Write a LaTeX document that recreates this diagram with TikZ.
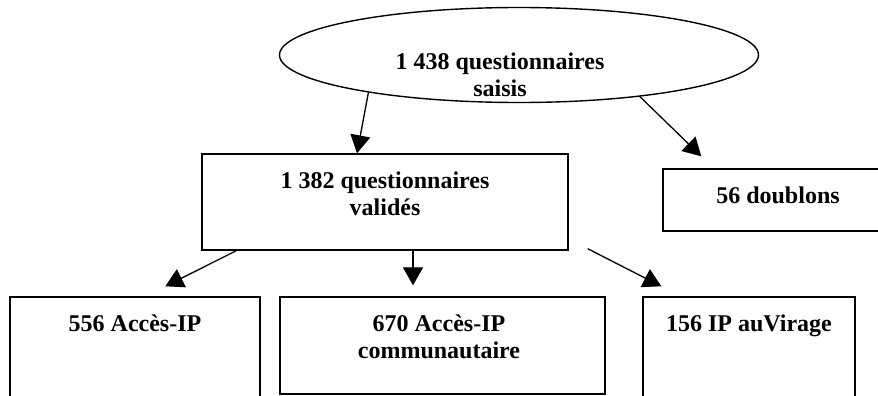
\documentclass[tikz,border=0pt]{standalone}
\usepackage{fontspec}
\setmainfont{Liberation Serif}
\usetikzlibrary{arrows.meta,shapes.geometric}
\begin{document}
\begin{tikzpicture}[x=1pt,y=-1pt,
  box/.style={draw, line width=1.4pt, inner sep=0pt},
  lbl/.style={font=\fontsize{24}{27}\selectfont\bfseries, inner sep=0pt, align=center},
  arr/.style={line width=1.3pt, -{Triangle[length=18pt,width=20pt]}}]
\useasboundingbox (0,0) rectangle (878,396);
\clip (0,0) rectangle (878,396);
% shapes
\node[box, ellipse, minimum width=479pt, minimum height=95pt] (saisis) at (519,55) {};
\node[box, minimum width=366pt, minimum height=96pt] (valid) at (385,202) {};
\node[box, minimum width=250pt, minimum height=62pt] (doublons) at (788,200) {};
\node[box, minimum width=250pt, minimum height=130pt] (acces) at (135,362) {};
\node[box, minimum width=325pt, minimum height=97pt] (commu) at (442.5,345.5) {};
\node[box, minimum width=212pt, minimum height=130pt] (virage) at (749,362) {};
% texts
\node[lbl] (tsaisis) at (500,74.4) {1 438 questionnaires\\saisis};
\node[lbl] (tvalid) at (385,194) {1 382 questionnaires\\validés};
\node[lbl, anchor=base] (tdoublons) at (778,203) {56 doublons};
\node[lbl, anchor=base] (tacces) at (135,331) {556 Accès-IP};
\node[lbl] (tcommu) at (439,337) {670 Accès-IP\\communautaire};
\node[lbl, anchor=base] (tvirage) at (749,331) {156 IP auVirage};
% connectors
\draw[arr] (saisis.194.8) -- ([xshift=-28pt]valid.north);
\draw[arr] (saisis.341.9) -- ([xshift=39pt,yshift=12pt]doublons.north west);
\draw[arr] ([xshift=35pt]valid.south west) -- ([xshift=156pt,yshift=10pt]acces.north west);
\draw[arr] ([xshift=28pt]valid.south) -- ([xshift=-29.5pt,yshift=11pt]commu.north);
\draw[arr] ([xshift=19pt,yshift=2pt]valid.south east) -- ([xshift=19pt,yshift=10pt]virage.north west);
\end{tikzpicture}
\end{document}
